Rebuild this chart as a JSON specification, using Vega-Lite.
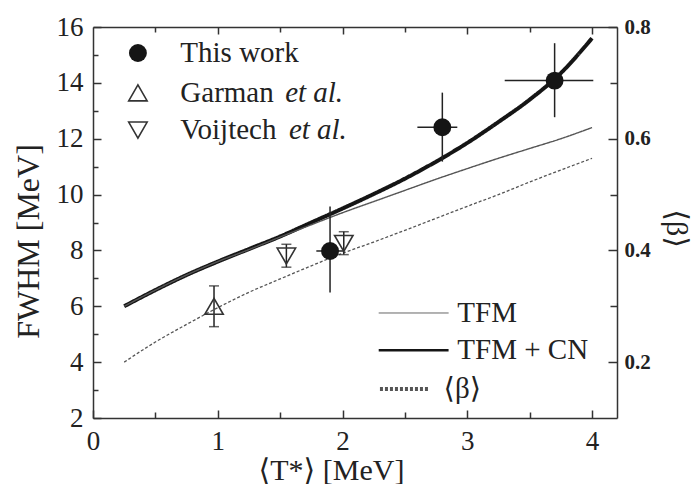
{
  "$schema": "https://vega.github.io/schema/vega-lite/v6.json",
  "width": 524,
  "height": 391,
  "autosize": {"type": "none"},
  "padding": {"left": 93, "top": 27, "right": 79, "bottom": 66},
  "background": "white",
  "config": {
    "view": {"stroke": null},
    "font": "Liberation Serif, Times New Roman, DejaVu Serif, serif",
    "axis": {
      "grid": false,
      "labelFont": "Liberation Serif, Times New Roman, DejaVu Serif, serif",
      "labelFontSize": 27,
      "labelColor": "#222",
      "titleFont": "Liberation Serif, Times New Roman, DejaVu Serif, serif",
      "titleFontWeight": "normal",
      "titleColor": "#222",
      "domainColor": "#333",
      "domainWidth": 1.5,
      "tickColor": "#333",
      "tickWidth": 1.5,
      "labelFlush": false,
      "offset": 0
    }
  },
  "datasets": {
    "curves": [
      {"curve": "TFM + CN", "t": 0.25, "f": 6.0},
      {"curve": "TFM + CN", "t": 0.5, "f": 6.58},
      {"curve": "TFM + CN", "t": 0.75, "f": 7.12},
      {"curve": "TFM + CN", "t": 1.0, "f": 7.6},
      {"curve": "TFM + CN", "t": 1.25, "f": 8.05},
      {"curve": "TFM + CN", "t": 1.5, "f": 8.5},
      {"curve": "TFM + CN", "t": 1.75, "f": 9.0},
      {"curve": "TFM + CN", "t": 2.0, "f": 9.5},
      {"curve": "TFM + CN", "t": 2.25, "f": 10.02},
      {"curve": "TFM + CN", "t": 2.5, "f": 10.57},
      {"curve": "TFM + CN", "t": 2.75, "f": 11.18},
      {"curve": "TFM + CN", "t": 3.0, "f": 11.85},
      {"curve": "TFM + CN", "t": 3.25, "f": 12.6},
      {"curve": "TFM + CN", "t": 3.5, "f": 13.4},
      {"curve": "TFM + CN", "t": 3.75, "f": 14.35},
      {"curve": "TFM + CN", "t": 4.0, "f": 15.6},
      {"curve": "TFM", "t": 0.25, "f": 6.0},
      {"curve": "TFM", "t": 0.5, "f": 6.58},
      {"curve": "TFM", "t": 0.75, "f": 7.12},
      {"curve": "TFM", "t": 1.0, "f": 7.6},
      {"curve": "TFM", "t": 1.25, "f": 8.03},
      {"curve": "TFM", "t": 1.5, "f": 8.48},
      {"curve": "TFM", "t": 1.75, "f": 8.92},
      {"curve": "TFM", "t": 2.0, "f": 9.35},
      {"curve": "TFM", "t": 2.25, "f": 9.75},
      {"curve": "TFM", "t": 2.5, "f": 10.15},
      {"curve": "TFM", "t": 2.75, "f": 10.55},
      {"curve": "TFM", "t": 3.0, "f": 10.93},
      {"curve": "TFM", "t": 3.25, "f": 11.3},
      {"curve": "TFM", "t": 3.5, "f": 11.65},
      {"curve": "TFM", "t": 3.75, "f": 12.0},
      {"curve": "TFM", "t": 4.0, "f": 12.4},
      {"curve": "beta", "t": 0.25, "f": 4.0},
      {"curve": "beta", "t": 0.5, "f": 4.72},
      {"curve": "beta", "t": 0.75, "f": 5.35},
      {"curve": "beta", "t": 1.0, "f": 5.95},
      {"curve": "beta", "t": 1.25, "f": 6.5},
      {"curve": "beta", "t": 1.5, "f": 6.98},
      {"curve": "beta", "t": 1.75, "f": 7.45},
      {"curve": "beta", "t": 2.0, "f": 7.9},
      {"curve": "beta", "t": 2.25, "f": 8.3},
      {"curve": "beta", "t": 2.5, "f": 8.72},
      {"curve": "beta", "t": 2.75, "f": 9.15},
      {"curve": "beta", "t": 3.0, "f": 9.58},
      {"curve": "beta", "t": 3.25, "f": 10.0},
      {"curve": "beta", "t": 3.5, "f": 10.45},
      {"curve": "beta", "t": 3.75, "f": 10.88},
      {"curve": "beta", "t": 4.0, "f": 11.3}
    ],
    "obs": [
      {"series": "This work", "t": 1.9, "tlo": 1.79, "thi": 2.01, "f": 7.98, "flo": 6.49, "fhi": 9.57},
      {"series": "This work", "t": 2.8, "tlo": 2.6, "thi": 2.92, "f": 12.41, "flo": 11.18, "fhi": 13.65},
      {"series": "This work", "t": 3.7, "tlo": 3.3, "thi": 4.01, "f": 14.08, "flo": 12.77, "fhi": 15.42},
      {"series": "Garman", "t": 0.97, "f": 6.0, "flo": 5.27, "fhi": 6.73},
      {"series": "Voijtech", "t": 1.55, "f": 7.8, "flo": 7.4, "fhi": 8.22},
      {"series": "Voijtech", "t": 2.01, "f": 8.25, "flo": 7.85, "fhi": 8.67}
    ],
    "legendMarks": [
      {"series": "This work", "t": 0.36, "f": 15.07},
      {"series": "Garman", "t": 0.36, "f": 13.64},
      {"series": "Voijtech", "t": 0.36, "f": 12.31}
    ],
    "legendText": [
      {"label": "This work", "t": 0.7, "f": 15.07},
      {"label": "Garman", "t": 0.7, "f": 13.64},
      {"label": "Voijtech", "t": 0.7, "f": 12.31},
      {"label": "TFM", "t": 2.92, "f": 5.76},
      {"label": "TFM + CN", "t": 2.92, "f": 4.43},
      {"label": "⟨β⟩", "t": 2.81, "f": 3.04}
    ],
    "legendItalic": [
      {"label": "et al.", "t": 1.54, "f": 13.64},
      {"label": "et al.", "t": 1.57, "f": 12.31}
    ],
    "legendLines": [
      {"curve": "TFM", "t1": 2.29, "t2": 2.85, "f": 5.76},
      {"curve": "TFM + CN", "t1": 2.29, "t2": 2.85, "f": 4.43},
      {"curve": "beta", "t1": 2.3, "t2": 2.69, "f": 3.04}
    ]
  },
  "resolve": {"axis": {"x": "independent", "y": "independent"}},
  "layer": [
    {
      "data": {"name": "curves"},
      "mark": {"type": "line", "interpolate": "monotone"},
      "encoding": {
        "x": {
          "field": "t", "type": "quantitative",
          "scale": {"domain": [0, 4.2], "nice": false, "zero": false},
          "axis": {
            "orient": "bottom", "values": [0, 1, 2, 3, 4], "tickSize": -8, "labelPadding": 18,
            "title": "⟨T*⟩ [MeV]", "titleFontSize": 30, "titleX": 238, "titleY": 61,
            "titleBaseline": "alphabetic", "titleAlign": "center"
          }
        },
        "y": {
          "field": "f", "type": "quantitative",
          "scale": {"domain": [2, 16], "nice": false, "zero": false},
          "axis": {
            "orient": "left", "values": [2, 4, 6, 8, 10, 12, 14, 16], "tickSize": -8, "labelPadding": 18,
            "title": "FWHM [MeV]", "titleFontSize": 32, "titleX": -65, "titleY": 214,
            "titleAngle": 270, "titleBaseline": "middle", "titleAlign": "center"
          }
        },
        "detail": {"field": "curve"},
        "color": {"field": "curve", "type": "nominal", "legend": null,
          "scale": {"domain": ["TFM", "TFM + CN", "beta"], "range": ["#555", "#151515", "#555"]}},
        "strokeWidth": {"field": "curve", "type": "nominal", "legend": null,
          "scale": {"type": "ordinal", "domain": ["TFM", "TFM + CN", "beta"], "range": [1.4, 4, 1.3]}},
        "strokeDash": {"field": "curve", "type": "nominal", "legend": null,
          "scale": {"domain": ["TFM", "TFM + CN", "beta"], "range": [[1, 0], [1, 0], [3, 2]]}}
      }
    },
    {
      "data": {"name": "obs"},
      "mark": {"type": "rule", "color": "#222", "strokeWidth": 1.5},
      "encoding": {
        "x": {
          "field": "t", "type": "quantitative",
          "axis": {"orient": "bottom", "values": [0.5, 1.5, 2.5, 3.5], "tickSize": -6, "labels": false, "domain": false, "title": null}
        },
        "y": {
          "field": "flo", "type": "quantitative",
          "axis": {"orient": "left", "values": [3, 5, 7, 9, 11, 13, 15], "tickSize": -5, "labels": false, "domain": false, "title": null}
        },
        "y2": {"field": "fhi"}
      }
    },
    {
      "data": {"name": "obs"},
      "transform": [{"filter": "datum.series === 'This work'"}],
      "mark": {"type": "rule", "color": "#222", "strokeWidth": 1.5},
      "encoding": {
        "x": {
          "field": "tlo", "type": "quantitative",
          "axis": {"orient": "top", "values": [1, 2, 3, 4], "tickSize": -7, "labels": false, "domain": true, "title": null}
        },
        "x2": {"field": "thi"},
        "y": {
          "field": "f", "type": "quantitative",
          "axis": {
            "orient": "right", "values": [4, 8, 12, 16], "tickSize": -9, "labelPadding": 16,
            "labelExpr": "format(datum.value / 20, '.1f')", "labelFontWeight": "bold", "labelFontSize": 21,
            "title": "⟨β⟩", "titleFontSize": 30, "titleAngle": 90, "titleX": 58, "titleY": 201,
            "titleBaseline": "middle", "titleAlign": "center"
          }
        }
      }
    },
    {
      "data": {"name": "obs"},
      "transform": [
        {"filter": "datum.series !== 'This work'"},
        {"fold": ["flo", "fhi"], "as": ["end", "fcap"]}
      ],
      "mark": {"type": "point", "shape": "M-1,0L1,0", "size": 100, "stroke": "#222", "strokeWidth": 1.5, "filled": false},
      "encoding": {
        "x": {
          "field": "t", "type": "quantitative",
          "axis": {"orient": "top", "values": [0.5, 1.5, 2.5, 3.5], "tickSize": -5, "labels": false, "domain": false, "title": null}
        },
        "y": {
          "field": "fcap", "type": "quantitative",
          "axis": {"orient": "right", "values": [6, 10, 14], "tickSize": -7, "labels": false, "domain": false, "title": null}
        }
      }
    },
    {
      "data": {"name": "obs"},
      "transform": [{"filter": "datum.series !== 'This work'"}],
      "mark": {"type": "point", "filled": false, "stroke": "#333", "strokeWidth": 1.6, "size": 340, "opacity": 1},
      "encoding": {
        "x": {"field": "t", "type": "quantitative", "axis": null},
        "y": {"field": "f", "type": "quantitative", "axis": null},
        "shape": {"field": "series", "type": "nominal", "legend": null,
          "scale": {"domain": ["Garman", "Voijtech"], "range": ["triangle-up", "triangle-down"]}}
      }
    },
    {
      "data": {"name": "obs"},
      "transform": [{"filter": "datum.series === 'This work'"}],
      "mark": {"type": "circle", "color": "#151515", "size": 320, "opacity": 1},
      "encoding": {
        "x": {"field": "t", "type": "quantitative", "axis": null},
        "y": {"field": "f", "type": "quantitative", "axis": null}
      }
    },
    {
      "data": {"name": "legendMarks"},
      "transform": [{"filter": "datum.series === 'This work'"}],
      "mark": {"type": "circle", "color": "#151515", "size": 320, "opacity": 1},
      "encoding": {
        "x": {"field": "t", "type": "quantitative", "axis": null},
        "y": {"field": "f", "type": "quantitative", "axis": null}
      }
    },
    {
      "data": {"name": "legendMarks"},
      "transform": [{"filter": "datum.series !== 'This work'"}],
      "mark": {"type": "point", "filled": false, "stroke": "#333", "strokeWidth": 1.6, "size": 340, "opacity": 1},
      "encoding": {
        "x": {"field": "t", "type": "quantitative", "axis": null},
        "y": {"field": "f", "type": "quantitative", "axis": null},
        "shape": {"field": "series", "type": "nominal", "legend": null}
      }
    },
    {
      "data": {"name": "legendLines"},
      "mark": {"type": "rule"},
      "encoding": {
        "x": {"field": "t1", "type": "quantitative", "axis": null},
        "x2": {"field": "t2"},
        "y": {"field": "f", "type": "quantitative", "axis": null},
        "color": {"field": "curve", "type": "nominal", "legend": null},
        "strokeWidth": {"field": "curve", "type": "nominal", "legend": null},
        "strokeDash": {"field": "curve", "type": "nominal", "legend": null}
      }
    },
    {
      "data": {"name": "legendText"},
      "mark": {"type": "text", "align": "left", "baseline": "middle", "fontSize": 29, "font": "Liberation Serif, Times New Roman, DejaVu Serif, serif", "color": "#222"},
      "encoding": {
        "x": {"field": "t", "type": "quantitative", "axis": null},
        "y": {"field": "f", "type": "quantitative", "axis": null},
        "text": {"field": "label"}
      }
    },
    {
      "data": {"name": "legendItalic"},
      "mark": {"type": "text", "align": "left", "baseline": "middle", "fontSize": 29, "font": "Liberation Serif, Times New Roman, DejaVu Serif, serif", "fontStyle": "italic", "color": "#222"},
      "encoding": {
        "x": {"field": "t", "type": "quantitative", "axis": null},
        "y": {"field": "f", "type": "quantitative", "axis": null},
        "text": {"field": "label"}
      }
    }
  ]
}
